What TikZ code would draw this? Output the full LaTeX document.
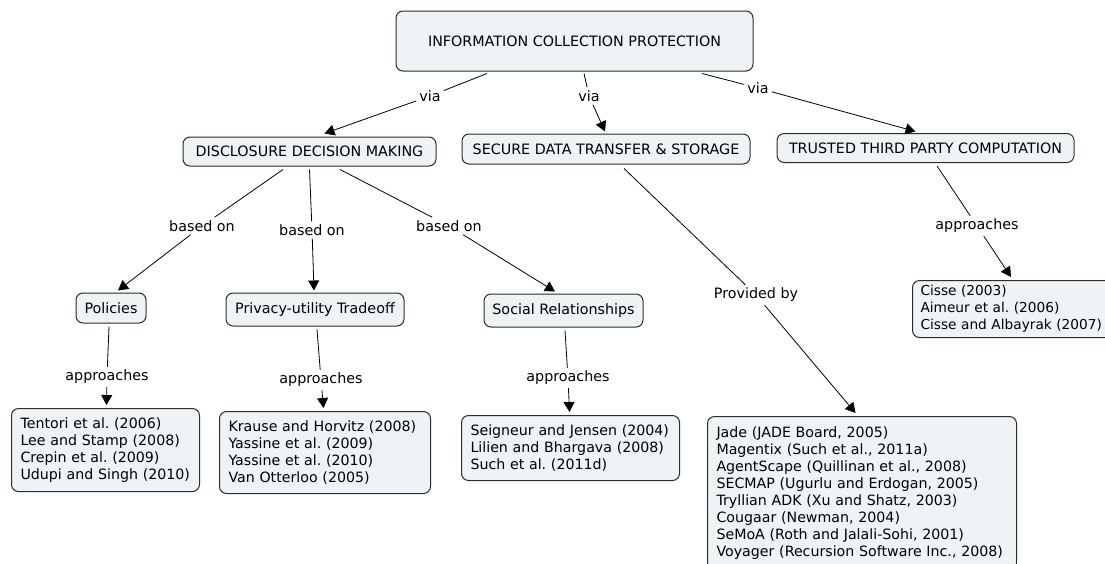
\documentclass[tikz,border=0pt]{standalone}
\usepackage{fontspec}
\setmainfont{DejaVu Sans}
\usetikzlibrary{arrows.meta,calc}
\definecolor{boxfill}{RGB}{238,243,245}
\definecolor{edgecol}{RGB}{45,45,45}
\frenchspacing
\newcommand\oneline[1]{\mbox{#1}}
\begin{document}
\begin{tikzpicture}[x=1pt,y=-1pt,
  concept/.style={draw=edgecol,line width=1pt,fill=boxfill,rounded corners=7pt,font=\fontsize{14.3}{17}\selectfont,inner sep=0pt,align=center},
  listbox/.style={draw=edgecol,line width=1pt,fill=boxfill,rounded corners=7pt,font=\fontsize{14.2}{17}\selectfont,align=left,anchor=north west,inner xsep=9pt,inner ysep=0pt},
  lbl/.style={font=\fontsize{14.3}{17}\selectfont,inner sep=3pt},
  link/.style={draw=black,line width=0.8pt},
  arr/.style={link,-{Triangle[length=10pt,width=11pt]}}]
\clip (0,0) rectangle (1105,563);
\fill[white] (0,0) rectangle (1105,563);
% concepts
\node[concept,minimum width=357pt,minimum height=60pt] (top) at (574.5,41) {INFORMATION COLLECTION PROTECTION};
\node[concept,minimum width=253pt,minimum height=29pt] (dm) at (309.5,151.5) {DISCLOSURE DECISION MAKING};
\node[concept,minimum width=288pt,minimum height=30pt] (sd) at (606,149) {SECURE DATA TRANSFER \& STORAGE};
\node[concept,minimum width=297pt,minimum height=29pt] (tp) at (925.5,148) {TRUSTED THIRD PARTY COMPUTATION};
\node[concept,minimum width=70pt,minimum height=30pt] (pol) at (111,308) {Policies};
\node[concept,minimum width=178pt,minimum height=33pt] (pu) at (315,309.5) {Privacy-utility Tradeoff};
\node[concept,minimum width=159pt,minimum height=33pt] (sr) at (563.5,310.5) {Social Relationships};
% lists
\node[listbox,text width=170pt,minimum height=83pt] (b1) at (11,408) {\oneline{Tentori et al. (2006)}\\\oneline{Lee and Stamp (2008)}\\\oneline{Crepin et al. (2009)}\\\oneline{Udupi and Singh (2010)}};
\node[listbox,text width=193pt,minimum height=82pt] (b2) at (219,411) {\oneline{Krause and Horvitz (2008)}\\\oneline{Yassine et al. (2009)}\\\oneline{Yassine et al. (2010)}\\\oneline{Van Otterloo (2005)}};
\node[listbox,text width=200pt,minimum height=65pt] (b3) at (461,415) {\oneline{Seigneur and Jensen (2004)}\\\oneline{Lilien and Bhargava (2008)}\\\oneline{Such et al. (2011d)}};
\node[listbox,text width=291pt,minimum height=153pt] (jade) at (707,416) {\oneline{Jade (JADE Board, 2005)}\\\oneline{Magentix (Such et al., 2011a)}\\\oneline{AgentScape (Quillinan et al., 2008)}\\\oneline{SECMAP (Ugurlu and Erdogan, 2005)}\\\oneline{Tryllian ADK (Xu and Shatz, 2003)}\\\oneline{Cougaar (Newman, 2004)}\\\oneline{SeMoA (Roth and Jalali-Sohi, 2001)}\\\oneline{Voyager (Recursion Software Inc., 2008)}};
\node[listbox,font=\fontsize{13.7}{17}\selectfont,inner xsep=8pt,text width=189pt,minimum height=57pt] (cisse) at (912,280) {\oneline{Cisse (2003)}\\\oneline{Aimeur et al. (2006)}\\\oneline{Cisse and Albayrak (2007)}};
% labels
\node[lbl] (v1) at (430,96) {via};
\node[lbl] (v2) at (589,96) {via};
\node[lbl] (v3) at (758,88) {via};
\node[lbl] (bo1) at (202,226) {based on};
\node[lbl] (bo2) at (312,230) {based on};
\node[lbl] (bo3) at (449,226) {based on};
\node[lbl] (ap1) at (107,377) {approaches};
\node[lbl] (ap2) at (321,380) {approaches};
\node[lbl] (ap3) at (568,378) {approaches};
\node[lbl] (prov) at (756,295) {Provided by};
\node[lbl] (ap4) at (977,226) {approaches};
% connectors
\draw[link] ([xshift=-87.5pt,yshift=-2pt]top.south) -- (v1);
\draw[arr] (v1) -- ([xshift=15pt,yshift=3pt]dm.north);
\draw[link] ([xshift=9.5pt,yshift=-2pt]top.south) -- (v2);
\draw[arr] (v2) -- ([xshift=-1pt,yshift=2pt]sd.north);
\draw[link] ([xshift=127.5pt,yshift=-2pt]top.south) -- (v3);
\draw[arr] (v3) -- ([xshift=-10pt,yshift=1.5pt]tp.north);
\draw[link] ([xshift=-26.5pt,yshift=-3pt]dm.south) -- (bo1);
\draw[arr] (bo1) -- ([xshift=7pt,yshift=2pt]pol.north);
\draw[link] ([yshift=-3pt]dm.south) -- (bo2);
\draw[arr] (bo2) -- ([xshift=-1pt,yshift=2pt]pu.north);
\draw[link] ([xshift=30.5pt,yshift=-3pt]dm.south) -- (bo3);
\draw[arr] (bo3) -- ([xshift=-8.5pt,yshift=2pt]sr.north);
\draw[link] ([xshift=18pt,yshift=-4pt]sd.south) -- (prov);
\draw[arr] (prov) -- ([xshift=-6.5pt,yshift=3pt]jade.north);
\draw[link] ([xshift=11.5pt,yshift=-3pt]tp.south) -- (ap4);
\draw[arr] (ap4) -- ([xshift=-4pt,yshift=3pt]cisse.north);
\draw[link] ([xshift=-2pt,yshift=-3pt]pol.south) -- (ap1);
\draw[arr] (ap1) -- ([xshift=1pt,yshift=3pt]b1.north);
\draw[link] ([xshift=2pt,yshift=-3pt]pu.south) -- (ap2);
\draw[arr] (ap2) -- ([xshift=-1.5pt,yshift=3pt]b2.north);
\draw[link] ([xshift=1.5pt,yshift=-3pt]sr.south) -- (ap3);
\draw[arr] (ap3) -- ([xshift=-1pt,yshift=3pt]b3.north);
\end{tikzpicture}
\end{document}
